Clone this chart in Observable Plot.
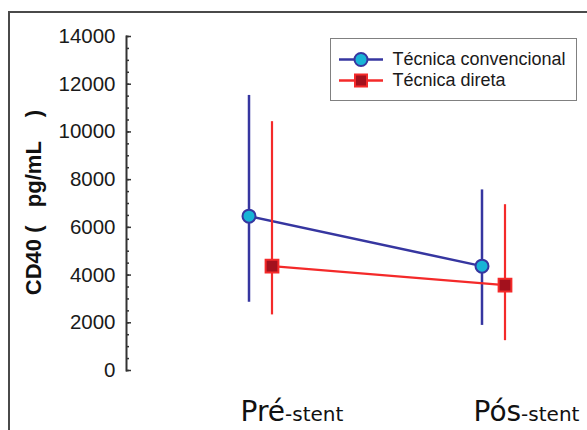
<!DOCTYPE html>
<html>
<head>
<meta charset="utf-8">
<script src="https://cdn.jsdelivr.net/npm/d3@7"></script>
<script src="https://cdn.jsdelivr.net/npm/@observablehq/plot@0.6"></script>
<style>
  html, body { margin: 0; padding: 0; background: #fff; overflow: hidden; }
  #wrap { position: relative; width: 587px; height: 430px; }
  #frame { position: absolute; left: 8px; top: 11px; width: 700px; height: 500px;
           border-left: 2px solid #4a4a4a; border-top: 2px solid #4a4a4a; pointer-events: none; }
  svg text { white-space: pre; }
  #legend { position: absolute; left: 330px; top: 38px; width: 247px; height: 63px;
            border: 1.5px solid #808080; background: #fff; padding-top: 10px; box-sizing: border-box;
            font-family: "Liberation Sans", Arial, sans-serif; font-size: 18px; color: #1a1a1a; }
  .row { display: flex; align-items: center; height: 21px; padding-left: 7.5px; }
  .row svg { margin-right: 10px; }
</style>
</head>
<body>
<div id="wrap"></div>
<script>
const categories = ["Pré-stent", "Pós-stent"];
const seriesNames = ["Técnica convencional", "Técnica direta"];
const convMean = [6470, 4375];
const convLow = [2860, 1890];
const convHigh = [11530, 7570];
const dirMean = [4375, 3580];
const dirLow = [2330, 1250];
const dirHigh = [10430, 6950];
const majorTicks = [0, 2000, 4000, 6000, 8000, 10000, 12000, 14000];
const yLabel = "CD40 (   pg/mL    )";

const blue = "#3636a0", cyan = "#18b4d6", red = "#f42a2a", darkRed = "#a3111d";

const conv = categories.map((c, i) => ({cat: c, mean: convMean[i], lo: convLow[i], hi: convHigh[i]}));
const dir = categories.map((c, i) => ({cat: c, mean: dirMean[i], lo: dirLow[i], hi: dirHigh[i]}));
const minorTicks = d3.range(0, 14001, 500);

const chart = Plot.plot({
  width: 587, height: 430,
  marginLeft: 126, marginRight: 0, marginTop: 36, marginBottom: 60,
  x: {type: "point", domain: categories, range: [259.5, 493], padding: 0, axis: null},
  y: {domain: [0, 14000], axis: null},
  style: {fontFamily: "Liberation Sans, Arial, sans-serif", background: "transparent", color: "#222"},
  marks: [
    Plot.frame({anchor: "left", stroke: "#333", strokeWidth: 2}),
    Plot.axisY({ticks: minorTicks, tickSize: -3, tickFormat: () => "", label: null, stroke: "#333", strokeWidth: 1.5}),
    Plot.axisY({ticks: majorTicks, tickSize: -5, tickFormat: () => "", label: null, stroke: "#333", strokeWidth: 1.5}),
    Plot.axisY({ticks: majorTicks, tickSize: 0, tickPadding: 11, tickFormat: d => String(d), label: null, fontSize: 20.5, fill: "#1a1a1a"}),
    Plot.text([yLabel], {frameAnchor: "left", textAnchor: "middle", dx: -93, dy: -1, rotate: -90, fontSize: 22, fontWeight: "bold", fill: "#111"}),
    Plot.text(categories, {x: d => d, text: d => d, frameAnchor: "bottom", textAnchor: "start", lineAnchor: "bottom", dx: -20, dy: 50, fill: "#111"}),
    Plot.line(conv, {x: "cat", y: "mean", dx: -11.5, stroke: blue, strokeWidth: 2.5}),
    Plot.ruleX(conv, {x: "cat", y1: "lo", y2: "hi", dx: -11.5, stroke: blue, strokeWidth: 2.5}),
    Plot.line(dir, {x: "cat", y: "mean", dx: 11.5, stroke: red, strokeWidth: 2.2}),
    Plot.ruleX(dir, {x: "cat", y1: "lo", y2: "hi", dx: 11.5, stroke: red, strokeWidth: 2.2}),
    Plot.dot(conv, {x: "cat", y: "mean", dx: -11.5, r: 6.5, symbol: "circle", fill: cyan, stroke: blue, strokeWidth: 2}),
    Plot.dot(dir, {x: "cat", y: "mean", dx: 11.5, r: 7.2, symbol: "square", fill: darkRed, stroke: red, strokeWidth: 2})
  ]
});

// Split x labels into a large prefix and a smaller suffix
d3.select(chart).selectAll("text").filter(function() { return categories.includes(this.textContent); })
  .each(function() {
    const t = this.textContent;
    const k = t.indexOf("-");
    const el = d3.select(this);
    el.text(null);
    el.append("tspan").attr("font-size", 28).attr("font-family", "DejaVu Sans, sans-serif").text(t.slice(0, k));
    el.append("tspan").attr("font-size", 20).attr("font-family", "DejaVu Sans, sans-serif").text(t.slice(k));
  });

const wrap = document.getElementById("wrap");
wrap.appendChild(chart);
const frame = document.createElement("div");
frame.id = "frame";
wrap.appendChild(frame);

// Legend
const legend = d3.select(wrap).append("div").attr("id", "legend");
const styles = [
  {stroke: blue, fill: cyan, shape: "circle"},
  {stroke: red, fill: darkRed, shape: "square"}
];
seriesNames.forEach((name, i) => {
  const row = legend.append("div").attr("class", "row");
  const sw = row.append("svg").attr("width", 44).attr("height", 21);
  const s = styles[i];
  sw.append("line").attr("x1", 0).attr("x2", 44).attr("y1", 10.5).attr("y2", 10.5)
    .attr("stroke", s.stroke).attr("stroke-width", 2.5);
  if (s.shape === "circle") {
    sw.append("circle").attr("cx", 22).attr("cy", 10.5).attr("r", 6.5)
      .attr("fill", s.fill).attr("stroke", s.stroke).attr("stroke-width", 2);
  } else {
    sw.append("rect").attr("x", 16).attr("y", 4.5).attr("width", 12).attr("height", 12)
      .attr("fill", s.fill).attr("stroke", s.stroke).attr("stroke-width", 2);
  }
  row.append("span").text(name);
});
</script>
</body>
</html>
